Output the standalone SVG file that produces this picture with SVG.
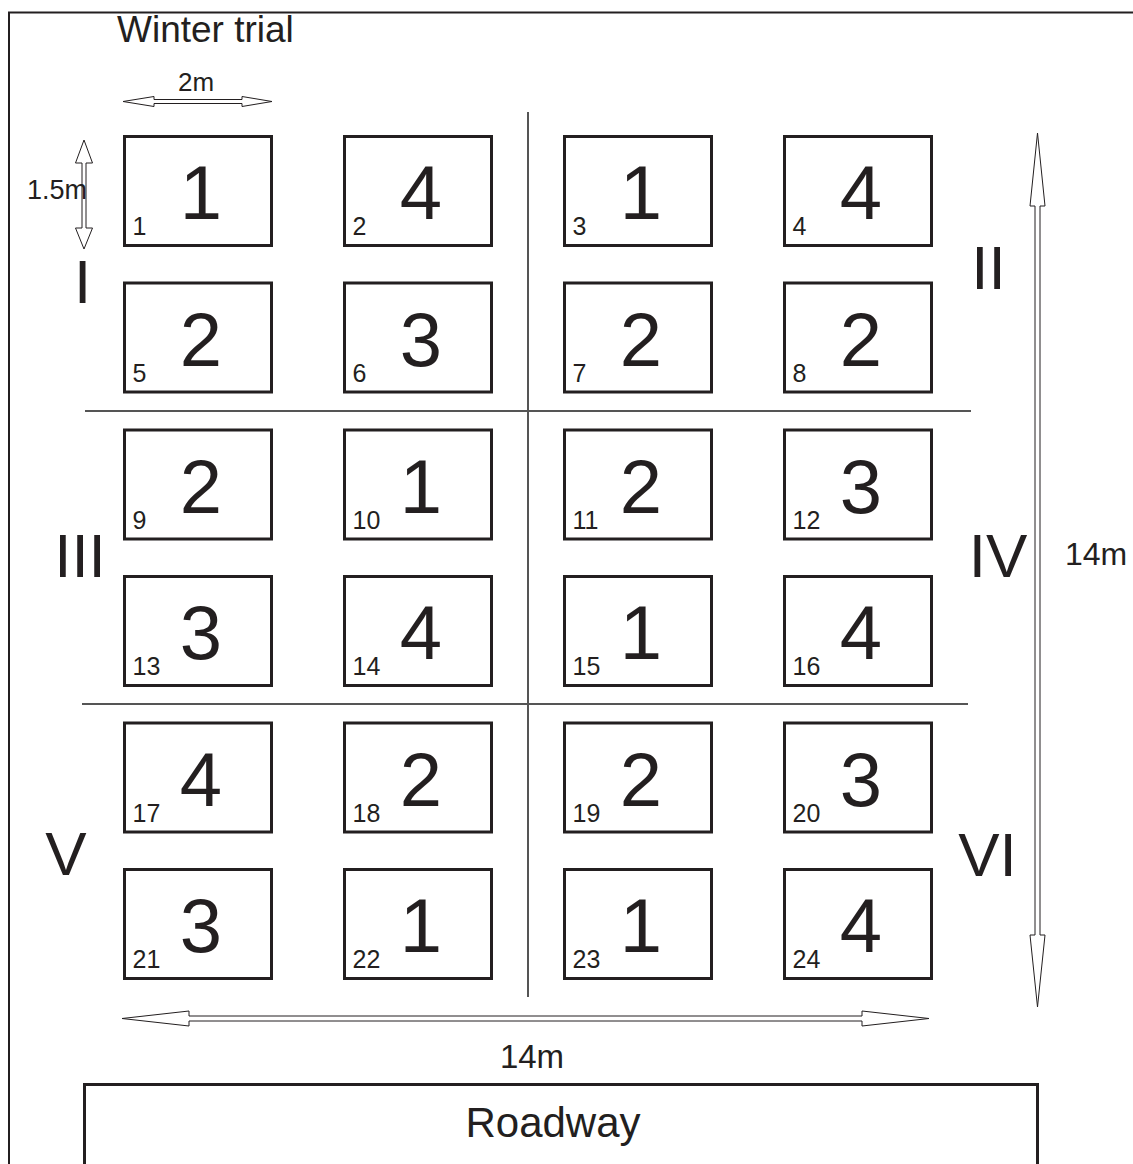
<svg xmlns="http://www.w3.org/2000/svg" width="1133" height="1164" viewBox="0 0 1133 1164">
<style>
text{font-family:"Liberation Sans",Arial,sans-serif;fill:#231f20}
.box{fill:none;stroke:#231f20;stroke-width:3}
.big{font-size:76px;text-anchor:middle}
.small{font-size:25px}
.rom{font-size:62px;text-anchor:middle}
.div{stroke:#555;stroke-width:2;fill:none}
.arr{fill:#fff;stroke:#231f20;stroke-width:1}
</style>
<rect x="0" y="0" width="1133" height="1164" fill="#fff"/>
<rect id="frame" x="9" y="12.5" width="1200" height="1200" fill="none" stroke="#231f20" stroke-width="2"/>
<text id="title" x="117" y="42" style="font-size:37px">Winter trial</text>

<g id="dividers">
<line class="div" x1="528" y1="112" x2="528" y2="997"/>
<line class="div" x1="85" y1="411" x2="971" y2="411"/>
<line class="div" x1="82" y1="704" x2="968" y2="704"/>
</g>

<g id="connectors">
<path class="arr" d="M123,101.5 L154,96.5 L154,99.5 L242,99.5 L242,96.5 L272,101.5 L242,106.5 L242,103.5 L154,103.5 L154,106.5 Z"/>
<path class="arr" d="M84,140 L92.5,163 L86,163 L86,228 L92.5,228 L84,249 L75.5,228 L82,228 L82,163 L75.5,163 Z"/>
<path class="arr" d="M1037.5,133 L1045,206 L1040,206 L1040,935 L1045,935 L1037.5,1007 L1030,935 L1035,935 L1035,206 L1030,206 Z"/>
<path class="arr" d="M122,1018.5 L189,1011 L189,1016 L862,1016 L862,1011 L929,1018.5 L862,1026 L862,1021 L189,1021 L189,1026 Z"/>
</g>

<text id="lbl2m" x="196" y="91" style="font-size:26px;text-anchor:middle">2m</text>
<text id="lbl15m" x="27" y="199" style="font-size:27px">1.5m</text>
<text id="lbl14mR" x="1065" y="565" style="font-size:32px">14m</text>
<text id="lbl14mB" x="532" y="1068" style="font-size:33px;text-anchor:middle">14m</text>

<g id="blocks">
<text class="rom" x="82.5" y="303">I</text>
<text class="rom" x="988.5" y="289">II</text>
<text class="rom" x="80" y="577">III</text>
<text class="rom" x="998" y="577">IV</text>
<text class="rom" x="66" y="875">V</text>
<text class="rom" x="987.5" y="876">VI</text>
</g>

<g id="plot1" transform="translate(124.5,136.5)"><rect class="box" width="147" height="109"/><text class="big" x="76.5" y="82.5">1</text><text class="small" x="8" y="98.5">1</text></g>
<g id="plot2" transform="translate(344.5,136.5)"><rect class="box" width="147" height="109"/><text class="big" x="76.5" y="82.5">4</text><text class="small" x="8" y="98.5">2</text></g>
<g id="plot3" transform="translate(564.5,136.5)"><rect class="box" width="147" height="109"/><text class="big" x="76.5" y="82.5">1</text><text class="small" x="8" y="98.5">3</text></g>
<g id="plot4" transform="translate(784.5,136.5)"><rect class="box" width="147" height="109"/><text class="big" x="76.5" y="82.5">4</text><text class="small" x="8" y="98.5">4</text></g>

<g id="plot5" transform="translate(124.5,283)"><rect class="box" width="147" height="109"/><text class="big" x="76.5" y="82.5">2</text><text class="small" x="8" y="98.5">5</text></g>
<g id="plot6" transform="translate(344.5,283)"><rect class="box" width="147" height="109"/><text class="big" x="76.5" y="82.5">3</text><text class="small" x="8" y="98.5">6</text></g>
<g id="plot7" transform="translate(564.5,283)"><rect class="box" width="147" height="109"/><text class="big" x="76.5" y="82.5">2</text><text class="small" x="8" y="98.5">7</text></g>
<g id="plot8" transform="translate(784.5,283)"><rect class="box" width="147" height="109"/><text class="big" x="76.5" y="82.5">2</text><text class="small" x="8" y="98.5">8</text></g>

<g id="plot9" transform="translate(124.5,430)"><rect class="box" width="147" height="109"/><text class="big" x="76.5" y="82.5">2</text><text class="small" x="8" y="98.5">9</text></g>
<g id="plot10" transform="translate(344.5,430)"><rect class="box" width="147" height="109"/><text class="big" x="76.5" y="82.5">1</text><text class="small" x="8" y="98.5">10</text></g>
<g id="plot11" transform="translate(564.5,430)"><rect class="box" width="147" height="109"/><text class="big" x="76.5" y="82.5">2</text><text class="small" x="8" y="98.5">11</text></g>
<g id="plot12" transform="translate(784.5,430)"><rect class="box" width="147" height="109"/><text class="big" x="76.5" y="82.5">3</text><text class="small" x="8" y="98.5">12</text></g>

<g id="plot13" transform="translate(124.5,576.5)"><rect class="box" width="147" height="109"/><text class="big" x="76.5" y="82.5">3</text><text class="small" x="8" y="98.5">13</text></g>
<g id="plot14" transform="translate(344.5,576.5)"><rect class="box" width="147" height="109"/><text class="big" x="76.5" y="82.5">4</text><text class="small" x="8" y="98.5">14</text></g>
<g id="plot15" transform="translate(564.5,576.5)"><rect class="box" width="147" height="109"/><text class="big" x="76.5" y="82.5">1</text><text class="small" x="8" y="98.5">15</text></g>
<g id="plot16" transform="translate(784.5,576.5)"><rect class="box" width="147" height="109"/><text class="big" x="76.5" y="82.5">4</text><text class="small" x="8" y="98.5">16</text></g>

<g id="plot17" transform="translate(124.5,723)"><rect class="box" width="147" height="109"/><text class="big" x="76.5" y="82.5">4</text><text class="small" x="8" y="98.5">17</text></g>
<g id="plot18" transform="translate(344.5,723)"><rect class="box" width="147" height="109"/><text class="big" x="76.5" y="82.5">2</text><text class="small" x="8" y="98.5">18</text></g>
<g id="plot19" transform="translate(564.5,723)"><rect class="box" width="147" height="109"/><text class="big" x="76.5" y="82.5">2</text><text class="small" x="8" y="98.5">19</text></g>
<g id="plot20" transform="translate(784.5,723)"><rect class="box" width="147" height="109"/><text class="big" x="76.5" y="82.5">3</text><text class="small" x="8" y="98.5">20</text></g>

<g id="plot21" transform="translate(124.5,869.5)"><rect class="box" width="147" height="109"/><text class="big" x="76.5" y="82.5">3</text><text class="small" x="8" y="98.5">21</text></g>
<g id="plot22" transform="translate(344.5,869.5)"><rect class="box" width="147" height="109"/><text class="big" x="76.5" y="82.5">1</text><text class="small" x="8" y="98.5">22</text></g>
<g id="plot23" transform="translate(564.5,869.5)"><rect class="box" width="147" height="109"/><text class="big" x="76.5" y="82.5">1</text><text class="small" x="8" y="98.5">23</text></g>
<g id="plot24" transform="translate(784.5,869.5)"><rect class="box" width="147" height="109"/><text class="big" x="76.5" y="82.5">4</text><text class="small" x="8" y="98.5">24</text></g>

<g id="roadway">
<rect x="84.5" y="1084.5" width="953" height="200" fill="none" stroke="#231f20" stroke-width="3"/>
<text x="553" y="1137" style="font-size:42px;text-anchor:middle">Roadway</text>
</g>
</svg>
